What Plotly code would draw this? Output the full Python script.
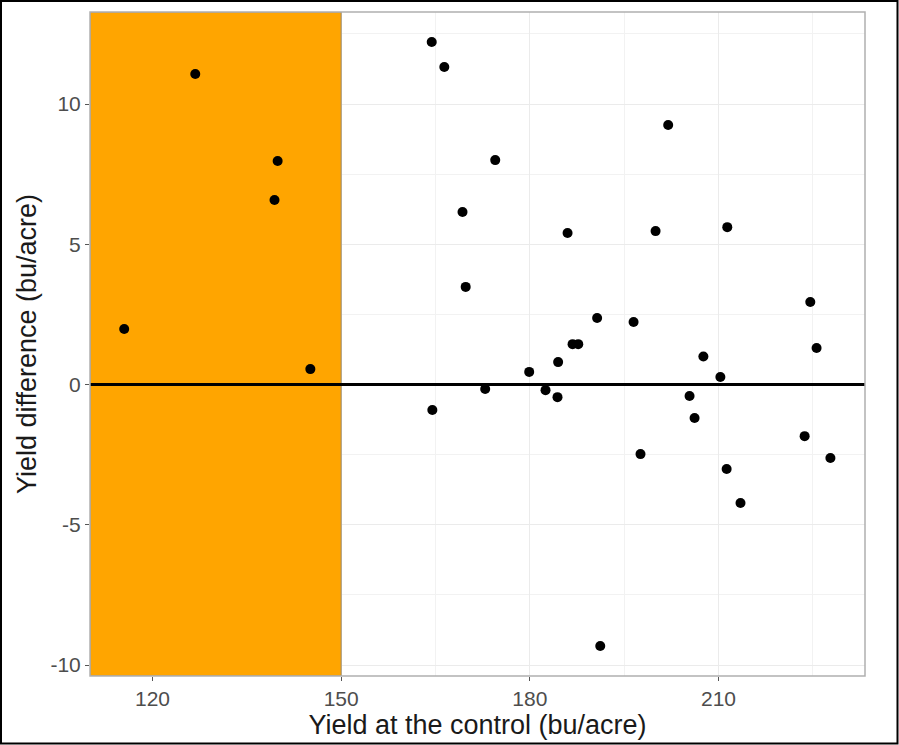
import plotly.graph_objects as go

control_yield = [115.5, 126.8, 139.9, 139.4, 145.1, 164.4, 166.4, 164.5, 169.3, 169.8,
                 174.5, 172.9, 179.9, 182.5, 184.4, 184.5, 186.0, 186.8, 187.7, 190.7,
                 191.2, 196.5, 197.6, 200.0, 202.0, 205.4, 206.2, 207.6, 210.3, 211.4,
                 211.3, 213.5, 223.7, 224.6, 225.6, 227.8]
yield_diff = [1.98, 11.07, 7.97, 6.58, 0.55, 12.21, 11.32, -0.91, 6.15, 3.48,
              8.0, -0.16, 0.45, -0.2, -0.45, 0.8, 5.4, 1.44, 1.44, 2.37,
              -9.32, 2.23, -2.48, 5.47, 9.25, -0.41, -1.19, 1.0, 0.27, 5.61,
              -3.01, -4.22, -1.84, 2.94, 1.30, -2.62]

threshold = 150
x_range = [110.06, 233.3]
y_range = [-10.39, 13.28]
x_ticks = [120, 150, 180, 210]
x_ticktext = ["120", "150", "180", "210"]
y_ticks = [-10, -5, 0, 5, 10]
y_ticktext = ["-10", "-5", "0", "5", "10"]

FONT = "Liberation Sans, Arial, Helvetica, sans-serif"

fig = go.Figure()
# orange highlighted region (x < threshold), spanning the whole y range
fig.add_trace(go.Scatter(
    x=[x_range[0], threshold, threshold, x_range[0], x_range[0]],
    y=[y_range[0], y_range[0], y_range[1], y_range[1], y_range[0]],
    mode="lines", fill="toself", fillcolor="#FFA500",
    line=dict(color="#9a8a70", width=1), showlegend=False, hoverinfo="skip"))
# zero reference line
fig.add_trace(go.Scatter(
    x=x_range, y=[0, 0], mode="lines", line=dict(color="black", width=3),
    showlegend=False, hoverinfo="skip"))
# data points
fig.add_trace(go.Scatter(
    x=control_yield, y=yield_diff, mode="markers",
    marker=dict(color="black", size=10, line=dict(width=0)),
    showlegend=False, hoverinfo="x+y"))

# panel border
fig.add_shape(type="rect", xref="paper", yref="paper", x0=0, x1=1, y0=0, y1=1,
              line=dict(color="#b0b0b0", width=1.5), layer="above")
# outer image border
W, H = 899, 745
l, r, t, b = 90, 34, 12, 69
pw, ph = W - l - r, H - t - b
fig.add_shape(type="rect", xref="paper", yref="paper",
              x0=(-l + 1) / pw, x1=1 + (r - 1.5) / pw,
              y0=(-b + 1.5) / ph, y1=1 + (t - 1) / ph,
              line=dict(color="black", width=2), layer="above")

fig.update_xaxes(range=x_range, tickvals=x_ticks, ticktext=x_ticktext,
                 ticks="outside", ticklen=4, tickcolor="#555555",
                 tickfont=dict(size=21, color="#4d4d4d", family=FONT),
                 showgrid=True, gridcolor="#ebebeb", gridwidth=1, zeroline=False,
                 minor=dict(tickvals=[135, 165, 195, 225], showgrid=True,
                            gridcolor="#f2f2f2", gridwidth=1, ticks=""),
                 title=dict(text="Yield at the control (bu/acre)",
                            font=dict(size=27, color="#1a1a1a", family=FONT), standoff=1),
                 showline=False, automargin=False)
fig.update_yaxes(range=y_range, tickvals=y_ticks, ticktext=y_ticktext,
                 ticks="outside", ticklen=4, tickcolor="#555555",
                 tickfont=dict(size=21, color="#4d4d4d", family=FONT),
                 showgrid=True, gridcolor="#ebebeb", gridwidth=1, zeroline=False,
                 minor=dict(tickvals=[-7.5, -2.5, 2.5, 7.5, 12.5], showgrid=True,
                            gridcolor="#f2f2f2", gridwidth=1, ticks=""),
                 title=dict(text="Yield difference (bu/acre)",
                            font=dict(size=27, color="#1a1a1a", family=FONT), standoff=5),
                 showline=False, automargin=False)

fig.update_layout(width=W, height=H, margin=dict(l=l, r=r, t=t, b=b, autoexpand=False),
                  paper_bgcolor="white", plot_bgcolor="white",
                  font=dict(family=FONT))

fig.write_html("out.html")
